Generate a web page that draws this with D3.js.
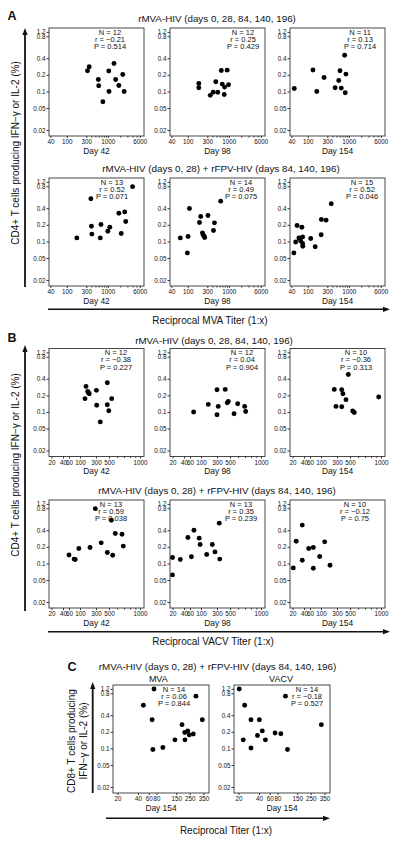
<!DOCTYPE html>
<html><head><meta charset="utf-8">
<script src="https://cdn.jsdelivr.net/npm/d3@7"></script>
<style>body{margin:0;background:#fff}svg{display:block}text{font-family:"Liberation Sans",Arial,Helvetica,sans-serif;fill:#111}</style>
</head><body><svg id="c" width="400" height="845"></svg>
<script>
// ---------------- DATA ----------------
const yTicks = [0.02, 0.05, 0.1, 0.2, 0.4, 0.8, 1.2];
const xTicksMVA = [40, 100, 300, 1000, 6000];
const xMinorMVA = [400, 500, 600, 700, 800, 900, 2000, 3000, 4000, 5000];
const xTicksVACV = [20, 40, 60, 100, 300, 500, 1000];
const xMinorVACV = [600, 700, 800, 900];
const xTicksC = [20, 40, 60, 80, 150, 250, 350];

// Panel A: reciprocal MVA titer vs % CD4+
const mvaD42 = [[321,0.237],[353,0.28],[588,0.165],[600,0.127],[760,0.065],[1056,0.234],[1070,0.1],[1413,0.32],[1550,0.165],[1860,0.128],[2310,0.203],[2500,0.1]];
const mvaD98 = [[186,0.139],[186,0.117],[353,0.085],[416,0.097],[482,0.15],[538,0.097],[656,0.24],[692,0.136],[773,0.088],[790,0.12],[912,0.243],[984,0.132]];
const mvaD154 = [[47,0.113],[134,0.244],[166,0.1],[250,0.179],[464,0.117],[569,0.158],[610,0.237],[656,0.115],[790,0.44],[850,0.206],[817,0.095]];
const mvaFpvD42 = [[176,0.116],[387,0.54],[400,0.189],[409,0.136],[656,0.116],[681,0.203],[1000,0.153],[1116,0.181],[1858,0.325],[2120,0.139],[2582,0.343],[2730,0.23],[4000,0.79]];
const mvaFpvD98 = [[66,0.116],[98,0.062],[102,0.123],[110,0.396],[193,0.22],[207,0.283],[228,0.143],[236,0.132],[250,0.125],[258,0.118],[311,0.295],[423,0.158],[447,0.217],[634,0.5]];
const mvaFpvD154 = [[46,0.062],[51,0.098],[55,0.195],[61,0.116],[67,0.103],[72,0.181],[75,0.121],[75,0.092],[76,0.082],[118,0.113],[152,0.08],[212,0.132],[215,0.25],[279,0.243],[373,0.46]];
// Panel B: reciprocal VACV titer
const vacvD42 = [[151,0.29],[170,0.236],[177,0.223],[189,0.214],[141,0.174],[305,0.246],[308,0.132],[468,0.339],[468,0.135],[531,0.174],[496,0.105],[355,0.066]];
const vacvD98 = [[71,0.1],[165,0.137],[300,0.253],[315,0.126],[300,0.089],[414,0.256],[449,0.147],[468,0.155],[547,0.093],[594,0.141],[694,0.126],[710,0.102]];
const vacvD154 = [[249,0.256],[280,0.126],[361,0.253],[361,0.124],[379,0.214],[427,0.167],[468,0.457],[531,0.104],[550,0.098],[950,0.187]];
const vacvFpvD42 = [[286,0.79],[527,0.548],[575,0.349],[669,0.339],[368,0.236],[95,0.187],[199,0.195],[688,0.206],[468,0.158],[543,0.141],[60,0.142],[76,0.12],[80,0.118]];
const vacvFpvD98 = [[328,0.5],[72,0.4],[52,0.295],[92,0.287],[96,0.22],[217,0.22],[261,0.162],[148,0.145],[64,0.132],[20,0.128],[32,0.118],[334,0.12],[20,0.062]];
const vacvFpvD154 = [[36,0.47],[25,0.253],[55,0.187],[70,0.195],[129,0.246],[94,0.134],[36,0.114],[186,0.093],[70,0.082],[21,0.083]];
// Panel C: CD8+ at day 154
const cd8Mva = [[73,1.18],[291,0.73],[49,0.548],[68,0.33],[340,0.33],[187,0.27],[207,0.195],[232,0.208],[246,0.176],[273,0.183],[144,0.143],[209,0.143],[98,0.104],[70,0.096]];
const cd8Vacv = [[20.5,1.18],[103,0.73],[24.6,0.548],[30.5,0.33],[40.5,0.33],[324,0.27],[45.3,0.208],[73,0.19],[89,0.185],[38,0.172],[23.5,0.143],[51,0.143],[30.5,0.102],[110,0.096]];

// Statistics (N, r, P)
const statN = [12,12,11, 13,14,15, 12,12,10, 13,13,10, 14,14];
const statR = ["-0.21","0.25","0.13", "0.52","0.49","0.52", "-0.38","0.04","-0.36", "0.59","0.35","-0.12", "0.06","-0.18"];
const statP = ["0.514","0.429","0.714", "0.071","0.075","0.046", "0.227","0.904","0.313", "0.038","0.239","0.75", "0.844","0.527"];
const dayLabels = ["Day 42","Day 98","Day 154"];

// ---------------- LAYOUT ----------------
const svg = d3.select("#c");
const FONT = '"Liberation Sans",Arial,Helvetica,sans-serif';
const H = 108;
const yBase = d3.scaleLog().domain([0.0156, 1.41]).range([H, 0]);
const yScale = d3.scaleLog().domain([0.0156, 0.4, 0.8, 1.2, 1.41])
  .range([H, yBase(0.4), yBase(1.0), yBase(1.2), 0]);

const mvaScale = w => d3.scaleLog().domain([37, 7600]).range([0, w]);
const vacvScale = w => d3.scaleLog().domain([17, 20, 40, 60, 100, 300, 500, 1000, 1100])
  .range([0, 2.5, 14, 20, 31, 47, 60, 91, w]);
const cScale = w => d3.scaleLog().domain([18, 20, 40, 60, 80, 150, 250, 350, 380])
  .range([0, 4.5, 25, 35.7, 43.5, 63.2, 76.7, 90.5, w]);

function txt(x, y, s, size, anchor, extra) {
  const t = svg.append("text").attr("x", x).attr("y", y).attr("font-size", size)
    .attr("text-anchor", anchor || "middle").text(s);
  if (extra) extra(t);
  return t;
}

function panel(x0, y0, w, x, xTicks, xMinor, pts, idx, statCx, day) {
  const g = svg.append("g").attr("transform", `translate(${x0},${y0})`);
  g.append("rect").attr("width", w).attr("height", H).attr("fill", "none")
    .attr("stroke", "#333").attr("stroke-width", 0.9);
  const ya = g.append("g").call(d3.axisLeft(yScale).tickValues(yTicks)
    .tickFormat(d => String(d)).tickSize(2.5).tickPadding(1));
  ya.select(".domain").remove();
  ya.attr("font-family", FONT).attr("font-size", 6.3);
  ya.selectAll("line").attr("stroke", "#333");
  const xa = g.append("g").attr("transform", `translate(0,${H})`)
    .call(d3.axisBottom(x).tickValues(xTicks).tickFormat(d3.format("d")).tickSize(2).tickPadding(1.6));
  xa.select(".domain").remove();
  xa.attr("font-family", FONT).attr("font-size", 6.3);
  xa.selectAll("line").attr("stroke", "#333");
  if (xMinor) {
    const xm = g.append("g").attr("transform", `translate(0,${H})`)
      .call(d3.axisBottom(x).tickValues(xMinor).tickFormat("").tickSize(1.5));
    xm.select(".domain").remove();
    xm.selectAll("line").attr("stroke", "#333");
  }
  g.selectAll("circle").data(pts).join("circle")
    .attr("cx", d => x(d[0])).attr("cy", d => yScale(d[1])).attr("r", 2.45).attr("fill", "#000");
  const lines = [`N = ${statN[idx]}`, `r = ${statR[idx].replace("-", "\u2212")}`, `P = ${statP[idx]}`];
  lines.forEach((s, i) => {
    g.append("text").attr("x", statCx).attr("y", 6.5 + i * 7.4).attr("font-size", 7.5)
      .attr("text-anchor", "middle").text(s);
  });
  g.append("text").attr("x", w / 2).attr("y", H + 17.5).attr("font-size", 8.4)
    .attr("text-anchor", "middle").text(day);
}

function arrowH(x1, x2, y) {
  svg.append("line").attr("x1", x1).attr("x2", x2 - 5).attr("y1", y).attr("y2", y)
    .attr("stroke", "#111").attr("stroke-width", 1.6);
  svg.append("path").attr("d", `M${x2},${y} L${x2 - 7},${y - 2.6} L${x2 - 7},${y + 2.6} Z`).attr("fill", "#111");
}
function arrowV(x, y1, y2) {
  svg.append("line").attr("x1", x).attr("x2", x).attr("y1", y1).attr("y2", y2 + 5)
    .attr("stroke", "#111").attr("stroke-width", 1.8);
  svg.append("path").attr("d", `M${x},${y2} L${x - 2.6},${y2 + 7} L${x + 2.6},${y2 + 7} Z`).attr("fill", "#111");
}

const cols = [49, 170, 290];
const W = 95;
const ylab = "CD4+ T cells producing IFN\u2212\u03b3 or IL-2 (%)";

// ---- Panel A ----
txt(7.5, 19.5, "A", 12.5, "start", t => t.attr("font-weight", "bold"));
txt(217, 21.8, "rMVA-HIV (days 0, 28, 84, 140, 196)", 9.8);
const aTop = [mvaD42, mvaD98, mvaD154];
const aBot = [mvaFpvD42, mvaFpvD98, mvaFpvD154];
const aTopStat = [61, 73, 70];
const aBotStat = [63, 71, 72];
aTop.forEach((d, i) => panel(cols[i], 28, W, mvaScale(W), xTicksMVA, xMinorMVA, d, i, aTopStat[i], dayLabels[i]));
txt(221, 171.8, "rMVA-HIV (days 0, 28) + rFPV-HIV (days 84, 140, 196)", 9.8);
aBot.forEach((d, i) => panel(cols[i], 178, W, mvaScale(W), xTicksMVA, xMinorMVA, d, 3 + i, aBotStat[i], dayLabels[i]));
arrowH(48, 390, 309.3);
txt(210, 324.3, "Reciprocal MVA Titer (1:x)", 10);
arrowV(25, 287, 28);
txt(0, 0, ylab, 10, "middle", t => t.attr("transform", "translate(18.6,153) rotate(-90)"));

// ---- Panel B ----
txt(7.5, 341.8, "B", 12.5, "start", t => t.attr("font-weight", "bold"));
txt(214, 343.5, "rMVA-HIV (days 0, 28, 84, 140, 196)", 9.8);
const bTop = [vacvD42, vacvD98, vacvD154];
const bBot = [vacvFpvD42, vacvFpvD98, vacvFpvD154];
const bTopStat = [67, 72, 66];
const bBotStat = [62, 71, 65];
bTop.forEach((d, i) => panel(cols[i], 348.5, W, vacvScale(W), xTicksVACV, xMinorVACV, d, 6 + i, bTopStat[i], dayLabels[i]));
txt(217, 493.5, "rMVA-HIV (days 0, 28) + rFPV-HIV (days 84, 140, 196)", 9.8);
bBot.forEach((d, i) => panel(cols[i], 500, W, vacvScale(W), xTicksVACV, xMinorVACV, d, 9 + i, bBotStat[i], dayLabels[i]));
arrowH(48, 390, 631.7);
txt(213, 645.3, "Reciprocal VACV Titer (1:x)", 10);
arrowV(25, 611, 345);
txt(0, 0, ylab, 10, "middle", t => t.attr("transform", "translate(18.6,465) rotate(-90)"));

// ---- Panel C ----
txt(67.5, 671, "C", 12.5, "start", t => t.attr("font-weight", "bold"));
txt(217.5, 669.5, "rMVA-HIV (days 0, 28) + rFPV-HIV (days 84, 140, 196)", 9.8);
txt(158.3, 681.6, "MVA", 9);
txt(281, 681.6, "VACV", 9);
panel(113, 685, 96, cScale(96), xTicksC, null, cd8Mva, 12, 61, "Day 154");
panel(234, 685, 96, cScale(96), xTicksC, null, cd8Vacv, 13, 73, "Day 154");
arrowH(106, 330, 818.3);
txt(226, 833.6, "Reciprocal Titer (1:x)", 10);
arrowV(92.7, 793, 682);
txt(0, 0, "CD8+ T cells producing", 10, "middle", t => t.attr("transform", "translate(75.3,741) rotate(-90)"));
txt(0, 0, "IFN\u2212\u03b3 or IL-2 (%)", 10, "middle", t => t.attr("transform", "translate(87,741) rotate(-90)"));
</script></body></html>
